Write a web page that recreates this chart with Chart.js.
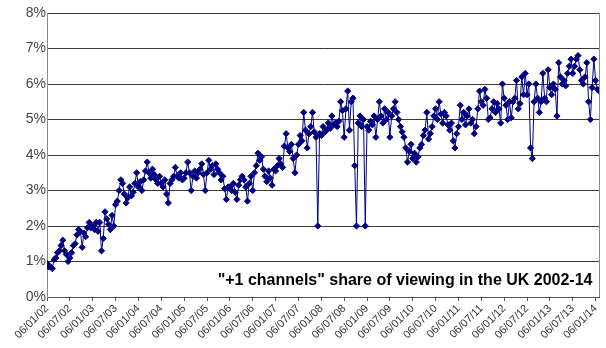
<!DOCTYPE html>
<html>
<head>
<meta charset="utf-8">
<script src="https://cdn.jsdelivr.net/npm/chart.js@4.4.1/dist/chart.umd.min.js"></script>
<style>
  html, body { margin: 0; padding: 0; background: #fff; }
</style>
</head>
<body>
<canvas id="shareChart" width="606" height="348"></canvas>
<script>
// "+1 channels" share of viewing (%), every two weeks
const share02 = [0.95, 0.85, 0.85, 0.8, 1.05, 1.1, 1.25, 1.3, 1.45, 1.6, 1.3, 1.2, 1.0,
                 1.1, 1.25, 1.45, 1.5, 1.75, 1.9, 1.85, 1.4, 1.8, 1.7, 1.95, 2.1, 1.95];
const share03 = [2.0, 1.9, 2.1, 1.85, 2.1, 1.3, 1.65, 2.4, 2.2, 2.05, 1.9, 2.3, 2.0,
                 2.6, 2.7, 3.0, 3.3, 3.2, 2.9, 2.65, 2.8, 3.1, 2.85, 2.95, 3.2, 3.5];
const share04 = [3.1, 3.25, 3.0, 3.3, 3.55, 3.8, 3.5, 3.35, 3.6, 3.45, 3.3, 3.2, 3.4,
                 3.2, 3.1, 3.3, 2.9, 2.65, 3.2, 3.3, 3.4, 3.65, 3.4, 3.35, 3.5, 3.3];
const share05 = [3.35, 3.5, 3.8, 3.5, 3.0, 3.4, 3.55, 3.35, 3.5, 3.6, 3.75, 3.45, 3.0,
                 3.5, 3.85, 3.6, 3.7, 3.45, 3.75, 3.6, 3.5, 3.3, 3.4, 3.05, 2.75, 3.1];
const share06 = [3.1, 3.0, 3.2, 2.95, 2.75, 3.15, 3.3, 3.4, 3.3, 3.1, 2.7, 3.2, 3.4,
                 3.0, 3.5, 3.7, 4.05, 3.85, 3.95, 3.6, 3.4, 3.25, 3.55, 3.35, 3.15, 3.6];
const share07 = [3.55, 3.7, 3.9, 3.75, 3.65, 4.25, 4.6, 4.2, 4.1, 4.3, 3.9, 3.5, 4.0,
                 4.3, 4.55, 4.4, 5.2, 4.7, 4.2, 4.6, 4.8, 5.2, 4.65, 4.5, 2.0, 4.6];
const share08 = [4.55, 4.8, 4.65, 4.7, 4.9, 4.75, 5.1, 4.85, 4.9, 4.8, 4.95, 5.5, 5.25,
                 4.5, 5.3, 5.8, 4.7, 5.5, 5.6, 3.7, 2.0, 4.9, 5.1, 4.8, 5.0, 2.0];
const share09 = [4.8, 4.7, 4.95, 4.85, 5.1, 4.5, 5.0, 5.5, 5.1, 4.9, 5.3, 5.0, 5.2,
                 4.5, 5.1, 5.3, 5.5, 5.2, 5.0, 4.8, 4.65, 4.5, 4.2, 3.8, 4.1, 4.3];
const share10 = [3.9, 4.05, 3.8, 3.95, 4.2, 4.3, 4.55, 4.7, 5.2, 4.45, 4.6, 4.8, 5.1,
                 5.3, 5.0, 5.5, 5.15, 4.9, 5.2, 5.1, 4.85, 4.7, 4.9, 4.4, 4.2, 4.6];
const share11 = [4.8, 5.4, 5.0, 5.2, 4.85, 5.1, 5.3, 4.9, 5.0, 4.6, 4.8, 5.3, 5.8,
                 5.5, 5.4, 5.85, 5.6, 5.0, 5.05, 5.3, 5.5, 5.2, 5.45, 5.3, 4.9, 6.0];
const share12 = [5.6, 5.4, 5.0, 5.5, 5.05, 5.5, 5.6, 6.1, 5.3, 5.45, 6.2, 5.7, 6.3,
                 5.7, 6.0, 4.2, 3.9, 5.5, 6.0, 5.6, 5.2, 5.5, 6.3, 5.6, 5.5, 6.4];
const share13 = [5.9, 5.7, 6.0, 5.85, 5.1, 6.6, 6.2, 6.0, 6.1, 5.95, 6.3, 6.5, 6.7,
                 6.3, 6.5, 6.7, 6.8, 6.4, 6.1, 6.0, 6.2, 6.6, 5.5, 5.0, 5.9, 6.7];
const share14 = [6.1, 5.85, 5.8];

const tickLabels = ['06/01/02', '06/07/02', '06/01/03', '06/07/03', '06/01/04', '06/07/04',
  '06/01/05', '06/07/05', '06/01/06', '06/07/06', '06/01/07', '06/07/07', '06/01/08',
  '06/07/08', '06/01/09', '06/07/09', '06/01/10', '06/07/10', '06/01/11', '06/07/11',
  '06/01/12', '06/07/12', '06/01/13', '06/07/13', '06/01/14'];
const pointsPerLabel = 13; // one label every six months
const titleText = '"+1 channels" share of viewing in the UK 2002-14';

const share = [].concat(share02, share03, share04, share05, share06, share07,
  share08, share09, share10, share11, share12, share13, share14);

const font = 'Liberation Sans, Arial, sans-serif';

// frame on the right + title inside the plot
const extras = {
  id: 'extras',
  afterDraw(chart) {
    const { ctx, chartArea } = chart;
    ctx.save();
    ctx.strokeStyle = '#8a8a8a';
    ctx.lineWidth = 1;
    ctx.beginPath();
    ctx.moveTo(Math.round(chartArea.right) + 0.5, chartArea.top);
    ctx.lineTo(Math.round(chartArea.right) + 0.5, chartArea.bottom);
    ctx.stroke();
    ctx.fillStyle = '#000';
    ctx.font = 'bold 16px ' + font;
    ctx.textAlign = 'right';
    ctx.textBaseline = 'alphabetic';
    ctx.fillText(titleText, chartArea.right - 7, chartArea.bottom - 12);
    ctx.restore();
  }
};

const ctx = document.getElementById('shareChart').getContext('2d');
new Chart(ctx, {
  type: 'line',
  data: {
    datasets: [{
      data: share.map((v, i) => ({ x: i, y: v })),
      borderColor: '#000080',
      backgroundColor: '#000080',
      borderWidth: 1,
      pointStyle: 'rectRot',
      pointRadius: 3.1,
      pointBorderWidth: 1,
      tension: 0
    }]
  },
  options: {
    responsive: false,
    animation: false,
    layout: { padding: { top: 13, right: 6, left: 0, bottom: 0 } },
    plugins: { legend: { display: false }, tooltip: { enabled: false } },
    scales: {
      x: {
        type: 'linear',
        min: 0,
        max: 314.2,
        afterBuildTicks: s => { s.ticks = tickLabels.map((_, k) => ({ value: k * pointsPerLabel })); },
        afterFit: s => { s.height = 51; },
        grid: { drawOnChartArea: false, drawTicks: true, tickLength: 4, color: '#555' },
        border: { color: '#555' },
        ticks: {
          autoSkip: false,
          minRotation: 45,
          maxRotation: 45,
          padding: 1,
          color: '#333',
          font: { family: font, size: 11 },
          callback: (v, i) => tickLabels[i]
        }
      },
      y: {
        min: 0,
        max: 8,
        afterFit: s => { s.width = 47; },
        grid: { color: '#3a3a3a', drawTicks: false },
        border: { color: '#8a8a8a' },
        ticks: {
          stepSize: 1,
          padding: 1,
          color: '#444',
          font: { family: font, size: 14 },
          callback: v => v + '%'
        }
      }
    }
  },
  plugins: [extras]
});
</script>
</body>
</html>
